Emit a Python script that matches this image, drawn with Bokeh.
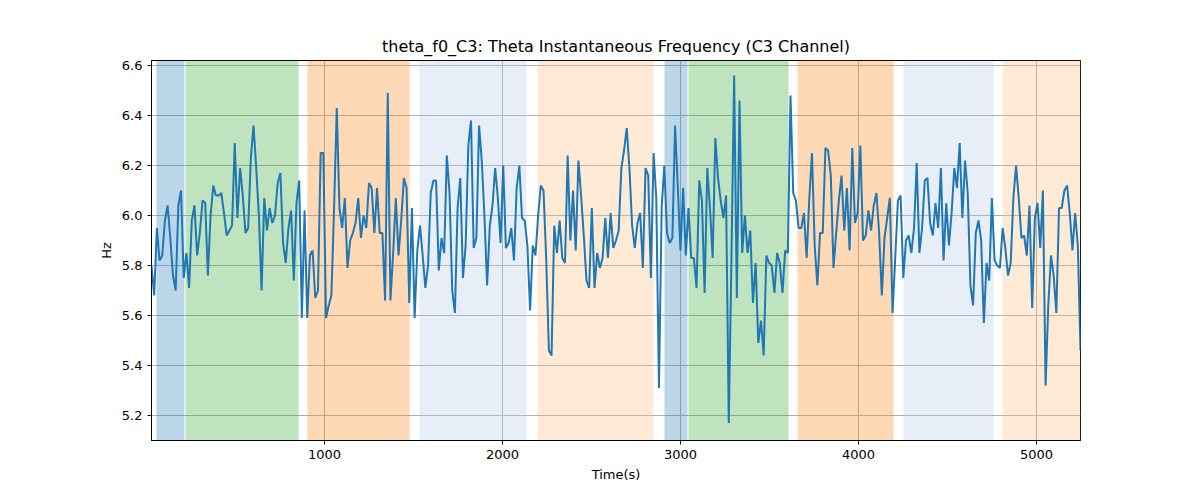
import numpy as np
from bokeh.plotting import figure
from bokeh.models import BoxAnnotation, FixedTicker, NumeralTickFormatter
from bokeh.embed import file_html
from bokeh.resources import INLINE

t_start, t_end = 28, 5247
freq = [5.80,5.68,5.95,5.82,5.84,5.98,6.04,5.91,5.76,5.70,6.04,6.10,5.75,5.85,5.71,5.98,6.04,5.84,5.93,6.06,6.05,5.76,6.0,6.12,6.08,6.08,6.09,6.01,5.92,5.94,5.96,6.29,5.99,6.19,6.08,5.93,5.95,6.23,6.36,6.19,6.0,5.70,6.07,5.94,6.03,5.97,6.0,6.13,6.17,5.89,5.81,5.95,6.02,5.74,6.05,6.14,5.59,6.02,5.59,5.84,5.86,
5.67,5.70,6.25,6.25,5.59,5.64,5.68,6.03,6.43,6.03,5.95,6.07,5.79,5.90,5.93,5.97,6.07,5.91,6.0,5.95,6.13,6.11,5.93,6.11,5.93,5.93,5.66,6.49,5.66,5.85,6.07,5.84,5.98,6.15,6.11,5.65,6.03,5.59,5.86,5.96,5.84,5.71,5.80,6.09,6.14,6.14,5.78,5.91,5.85,6.24,6.09,5.70,5.61,6.03,6.15,5.75,5.88,6.28,
6.38,5.87,5.91,6.36,6.22,6.0,5.72,5.96,6.04,6.19,6.07,5.89,6.20,5.87,5.89,5.95,5.82,6.11,6.20,5.99,5.98,5.88,5.62,5.88,5.84,6.0,6.12,6.10,5.83,5.46,5.44,5.96,5.85,5.98,5.83,5.81,6.24,5.90,6.10,5.86,6.22,6.08,5.92,5.74,5.71,6.03,5.71,5.85,5.79,5.83,5.99,5.83,6.01,5.87,5.90,5.94,6.19,
6.26,6.35,6.19,5.96,5.87,5.97,6.01,5.79,6.19,6.16,5.75,6.25,6.07,5.31,6.03,6.20,5.93,5.89,5.91,6.36,6.12,5.86,6.11,5.84,6.03,5.83,5.83,5.71,6.14,6.06,5.69,6.19,6.03,5.83,6.31,6.15,6.06,5.99,6.08,5.17,5.83,6.56,5.67,6.46,5.85,6.0,5.85,5.94,5.65,5.81,5.49,5.58,5.44,5.84,5.81,5.80,5.69,5.85,
5.81,5.69,5.86,5.85,6.48,6.09,6.06,5.95,5.95,6.01,5.83,6.07,6.25,5.88,5.72,5.93,5.93,6.27,6.26,6.16,5.79,5.93,6.06,6.16,5.94,6.11,5.86,6.27,5.97,6.01,6.28,5.90,5.92,6.02,5.94,6.04,6.09,5.93,5.68,5.91,5.99,6.07,5.61,5.83,6.06,6.08,5.75,5.90,5.92,5.85,5.95,6.21,5.85,5.95,6.14,6.15,5.97,
5.92,6.05,5.95,6.19,5.82,6.05,5.88,6.01,6.19,6.11,6.29,5.99,6.22,6.09,5.72,5.64,5.93,5.98,5.90,5.57,5.81,5.74,6.07,5.82,5.80,5.79,5.95,5.87,5.76,5.81,6.07,6.20,6.07,5.91,5.92,5.84,6.04,5.63,5.99,6.05,5.87,6.10,5.32,5.64,5.84,5.76,5.61,6.03,6.03,6.10,6.12,6.01,5.86,6.01,5.88,5.46]
time = np.linspace(t_start, t_end, len(freq))

band_starts = [56, 219, 904, 1534, 2197, 2910, 3045, 3657, 4253, 4809]
band_ends = [213, 854, 1478, 2135, 2848, 3039, 3607, 4197, 4758, 5300]
band_colors = ["#1f77b4", "#2ca02c", "#ff7f0e", "#aec7e8", "#ffbb78",
               "#1f77b4", "#2ca02c", "#ff7f0e", "#aec7e8", "#ffbb78"]

p = figure(width=1184, height=484, output_backend="svg", toolbar_location=None,
           x_range=(t_start, t_end), y_range=(5.1, 6.62),
           title="theta_f0_C3: Theta Instantaneous Frequency (C3 Channel)",
           min_border_left=151, min_border_right=104, min_border_top=60, min_border_bottom=39)
for s, e, c in zip(band_starts, band_ends, band_colors):
    p.add_layout(BoxAnnotation(left=s, right=e, fill_color=c, fill_alpha=0.3, line_alpha=0, level="underlay"))
p.line(time, freq, line_color="#1f77b4", line_width=2)

p.title.align = "center"
p.title.text_font = "DejaVu Sans"
p.title.text_font_size = "16px"
p.title.text_font_style = "normal"
p.title.text_color = "black"
p.xaxis.axis_label = "Time(s)"
p.yaxis.axis_label = "Hz"
for ax in (p.xaxis[0], p.yaxis[0]):
    ax.axis_label_text_font = "DejaVu Sans"
    ax.axis_label_text_font_style = "normal"
    ax.axis_label_text_font_size = "13px"
    ax.axis_label_text_color = "black"
    ax.major_label_text_font = "DejaVu Sans"
    ax.major_label_text_font_size = "13px"
    ax.major_label_text_color = "black"
    ax.axis_line_color = "black"
    ax.major_tick_line_color = "black"
    ax.minor_tick_line_color = None
    ax.major_tick_out = 4
    ax.major_tick_in = 0
p.xaxis.ticker = FixedTicker(ticks=[1000, 2000, 3000, 4000, 5000])
p.yaxis.ticker = FixedTicker(ticks=[5.2, 5.4, 5.6, 5.8, 6.0, 6.2, 6.4, 6.6])
p.yaxis.formatter = NumeralTickFormatter(format="0.0")
p.xgrid.grid_line_color = "#b0b0b0"
p.ygrid.grid_line_color = "#b0b0b0"
p.xgrid.grid_line_alpha = 1.0
p.ygrid.grid_line_alpha = 1.0
p.outline_line_color = "black"
p.background_fill_color = "white"

open("out.html", "w").write(file_html(p, INLINE))
